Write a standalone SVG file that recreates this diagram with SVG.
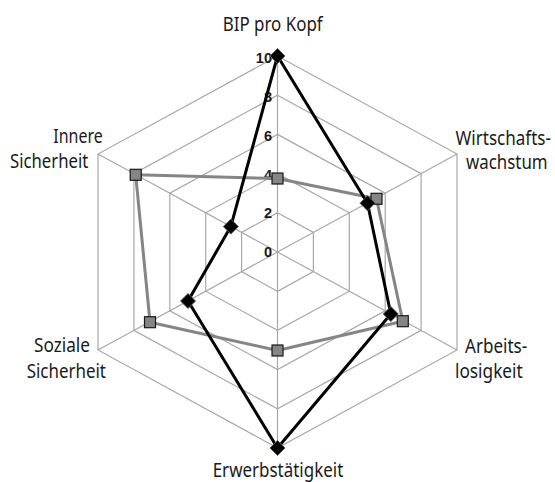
<svg xmlns="http://www.w3.org/2000/svg" width="555" height="482" viewBox="0 0 555 482">
<style>
.grid{fill:none;stroke:#a8a8a8;stroke-width:1.2}
.lab{font-family:"Noto Sans","Open Sans",sans-serif;font-size:20px;fill:#1a1a1a}
.val{font-family:"Liberation Sans",Arial,sans-serif;font-size:14.5px;font-weight:bold;fill:#1a1a1a;text-anchor:end}
.sa{fill:none;stroke:#858585;stroke-width:3;stroke-linejoin:round}
.sb{fill:none;stroke:#000;stroke-width:3;stroke-linejoin:round}
.sq{fill:#858585;stroke:#1a1a1a;stroke-width:1.2}
.dm{fill:#000;stroke:#555;stroke-width:1}
</style>
<defs>
<rect id="sq" x="-5.5" y="-5.5" width="11" height="11" class="sq"/>
<path id="dm" d="M0,-7.5 L7.5,0 L0,7.5 L-7.5,0 Z" class="dm"/>
</defs>
<rect width="555" height="482" fill="#fff"/>
<g id="grid">
<polygon class="grid" points="277.5,56 457,154 457,350 277.5,448 98,350 98,154"/>
<polygon class="grid" points="277.5,95.2 421.1,173.6 421.1,330.4 277.5,408.8 133.9,330.4 133.9,173.6"/>
<polygon class="grid" points="277.5,134.4 385.2,193.2 385.2,310.8 277.5,369.6 169.8,310.8 169.8,193.2"/>
<polygon class="grid" points="277.5,173.6 349.3,212.8 349.3,291.2 277.5,330.4 205.7,291.2 205.7,212.8"/>
<polygon class="grid" points="277.5,212.8 313.4,232.4 313.4,271.6 277.5,291.2 241.6,271.6 241.6,232.4"/>
<path class="grid" d="M277.5,252 L277.5,56 M277.5,252 L457,154 M277.5,252 L457,350 M277.5,252 L277.5,448 M277.5,252 L98,350 M277.5,252 L98,154"/>
</g>
<g id="scale">
<text class="val" x="272" y="63">10</text>
<text class="val" x="272" y="102">8</text>
<text class="val" x="272" y="141">6</text>
<text class="val" x="272" y="179.5">4</text>
<text class="val" x="272" y="218">2</text>
<text class="val" x="272" y="257">0</text>
</g>
<g id="connectors">
<polygon class="sa" points="277.5,178.5 376.5,198.8 402.8,321.2 277.5,350.5 150,322.2 135.7,174.8"/>
<polygon class="sb" points="277.5,56 367.5,203.2 390.8,314 277.5,448 188,301 230.8,226.6"/>
</g>
<g id="series-a">
<use href="#sq" x="277.5" y="178.5"/>
<use href="#sq" x="376.5" y="198.8"/>
<use href="#sq" x="402.8" y="321.2"/>
<use href="#sq" x="277.5" y="350.5"/>
<use href="#sq" x="150" y="322.2"/>
<use href="#sq" x="135.7" y="174.8"/>
</g>
<g id="series-b">
<use href="#dm" x="277.5" y="56"/>
<use href="#dm" x="367.5" y="203.2"/>
<use href="#dm" x="390.8" y="314"/>
<use href="#dm" x="277.5" y="448"/>
<use href="#dm" x="188" y="301"/>
<use href="#dm" x="230.8" y="226.6"/>
</g>
<g id="node-bip"><text class="lab" x="222.7" y="31" textLength="100" lengthAdjust="spacingAndGlyphs">BIP pro Kopf</text></g>
<g id="node-wachstum">
<text class="lab" transform="translate(455.5,145) scale(0.87,1)" textLength="109.8" lengthAdjust="spacingAndGlyphs">Wirtschafts-</text>
<text class="lab" transform="translate(466,169.3) scale(0.87,1)" textLength="93.8" lengthAdjust="spacingAndGlyphs">wachstum</text>
</g>
<g id="node-arbeitslosigkeit">
<text class="lab" x="465" y="352.7" textLength="62.3" lengthAdjust="spacingAndGlyphs">Arbeits-</text>
<text class="lab" x="455" y="378.3" textLength="67.7" lengthAdjust="spacingAndGlyphs">losigkeit</text>
</g>
<g id="node-erwerb"><text class="lab" x="212.7" y="476.7" textLength="130.6" lengthAdjust="spacingAndGlyphs">Erwerbstätigkeit</text></g>
<g id="node-sozial">
<text class="lab" x="34" y="351.7" textLength="56" lengthAdjust="spacingAndGlyphs">Soziale</text>
<text class="lab" x="26.7" y="377.7" textLength="79.3" lengthAdjust="spacingAndGlyphs">Sicherheit</text>
</g>
<g id="node-innere">
<text class="lab" x="53.3" y="142.7" textLength="49.4" lengthAdjust="spacingAndGlyphs">Innere</text>
<text class="lab" x="10" y="168.3" textLength="78.3" lengthAdjust="spacingAndGlyphs">Sicherheit</text>
</g>
</svg>
